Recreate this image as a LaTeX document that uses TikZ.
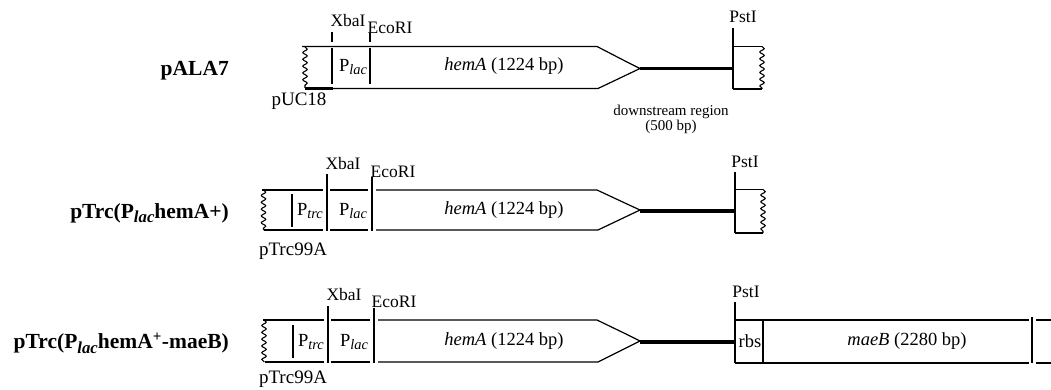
\documentclass[tikz,border=0pt]{standalone}
\usepackage{fontspec}
\setmainfont{Liberation Serif}
\usetikzlibrary{decorations.pathmorphing}
\newcommand\lowsub[1]{\raisebox{-0.45ex}{\scalebox{0.78}{\itshape #1}}}
\begin{document}
\begin{tikzpicture}[x=1pt,y=-1pt,
  dna/.style={line width=1.2pt},
  cut/.style={line width=1.5pt},
  wavy/.style={line width=1.1pt, decorate, decoration={snake, segment length=6.8pt, amplitude=2.2pt}},
  thickdna/.style={line width=3.5pt},
  lbl/.style={inner sep=0pt, font=\fontsize{18.5}{20}\selectfont},
  site/.style={inner sep=0pt, font=\fontsize{17.5}{19}\selectfont},
  vec/.style={inner sep=0pt, font=\fontsize{19}{21}\selectfont},
  plasmid/.style={inner sep=0pt, anchor=east, font=\fontsize{21.5}{23}\selectfont\bfseries},
  small/.style={inner sep=0pt, font=\fontsize{15}{16}\selectfont}]
\useasboundingbox (0,0) rectangle (1051,390);

% ---------------- pALA7 ----------------
\node[plasmid] (n1) at (229,71) {pALA7};
\draw[wavy] (305,47) -- (305,88);
\draw[dna] (302,46.5) -- (597,46.5) -- (627,62) -- (640,68.5) -- (598,88.5) -- (333,88.5);
\draw[line width=2.2pt] (305,88.5) -- (333,88.5);
\draw[cut] (332,32) -- (332,42) (332,48) -- (332,84);
\draw[cut] (370,33) -- (370,42) (370,48) -- (370,84);
\node[site] (x1) at (348,21) {XbaI};
\node[site] (e1) at (390,28) {EcoRI};
\node[lbl] (p1) at (353,67) {P\lowsub{lac}};
\node[lbl] (h1) at (504,66) {\textit{hemA} (1224 bp)};
\node[vec] (u1) at (299,101) {pUC18};
\coordinate (t1) at (640,68.5);
\coordinate (s1) at (733,68.5);
\draw[thickdna] (t1) -- (s1);
\draw[dna] (733,28) -- (733,89) (733,46.5) -- (762,46.5) (733,89) -- (762,89);
\draw[wavy] (762,46.5) -- (762,89);
\node[site] (ps1) at (743,17) {PstI};
\node[small] (d1) at (671,112) {downstream region};
\node[small] (d2) at (671,127) {(500 bp)};

% ---------------- pTrc(Plac hemA+) ----------------
\node[plasmid] (n2) at (229,213) {pTrc(P\lowsub{\bfseries lac}hemA+)};
\draw[wavy] (263.5,190) -- (263.5,230);
\draw[dna] (262,190) -- (323,190) (330,190) -- (368,190);
\draw[dna] (264,230) -- (323,230) (330,230) -- (368,230);
\draw[dna] (376,190) -- (597,190) -- (627,204) -- (640,210) -- (598,230) -- (376,230);
\draw[cut] (292,194) -- (292,227);
\draw[cut] (327,174) -- (327,231);
\draw[cut] (372,177) -- (372,231);
\node[site] (x2) at (343,164) {XbaI};
\node[site] (e2) at (393,172) {EcoRI};
\node[lbl] (p2) at (310,211) {P\lowsub{trc}};
\node[lbl] (l2) at (353,211) {P\lowsub{lac}};
\node[lbl] (h2) at (504,210) {\textit{hemA} (1224 bp)};
\node[vec] (u2) at (293,251) {pTrc99A};
\coordinate (t2) at (640,211);
\coordinate (s2) at (735,211);
\draw[thickdna] (t2) -- (s2);
\draw[dna] (735,172) -- (735,233) (735,189.5) -- (763,189.5) (735,233) -- (763,233);
\draw[wavy] (763,189.5) -- (763,233);
\node[site] (ps2) at (745,162) {PstI};

% ---------------- pTrc(Plac hemA+-maeB) ----------------
\node[plasmid] (n3) at (229,343) {pTrc(P\lowsub{\bfseries lac}hemA\textsuperscript{+}-maeB)};
\draw[wavy] (264,320) -- (264,362);
\draw[dna] (263,320) -- (324,320) (331,320) -- (370,320);
\draw[dna] (265,362) -- (324,362) (331,362) -- (370,362);
\draw[dna] (378,320) -- (597,320) -- (627,334.5) -- (640,341) -- (598,362) -- (378,362);
\draw[cut] (293,325) -- (293,358);
\draw[cut] (328,306) -- (328,363);
\draw[cut] (374,308) -- (374,363);
\node[site] (x3) at (344,295) {XbaI};
\node[site] (e3) at (394,302) {EcoRI};
\node[lbl] (p3) at (311,342) {P\lowsub{trc}};
\node[lbl] (l3) at (354,342) {P\lowsub{lac}};
\node[lbl] (h3) at (504,341) {\textit{hemA} (1224 bp)};
\node[vec] (u3) at (293,379.5) {pTrc99A};
\coordinate (t3) at (640,342);
\coordinate (s3) at (735,342);
\draw[thickdna] (t3) -- (s3);
\draw[dna] (735,302) -- (735,363);
\draw[dna] (735,320) -- (1029,320) (735,363) -- (1029,363);
\draw[dna] (763,320) -- (763,363);
\draw[cut] (1032,317) -- (1032,363);
\draw[dna] (1036,320) -- (1051,320) (1036,363) -- (1051,363);
\node[site] (ps3) at (746,292) {PstI};
\node[lbl] (r3) at (750,341) {rbs};
\node[lbl] (m3) at (907,341) {\textit{maeB} (2280 bp)};
\end{tikzpicture}
\end{document}
